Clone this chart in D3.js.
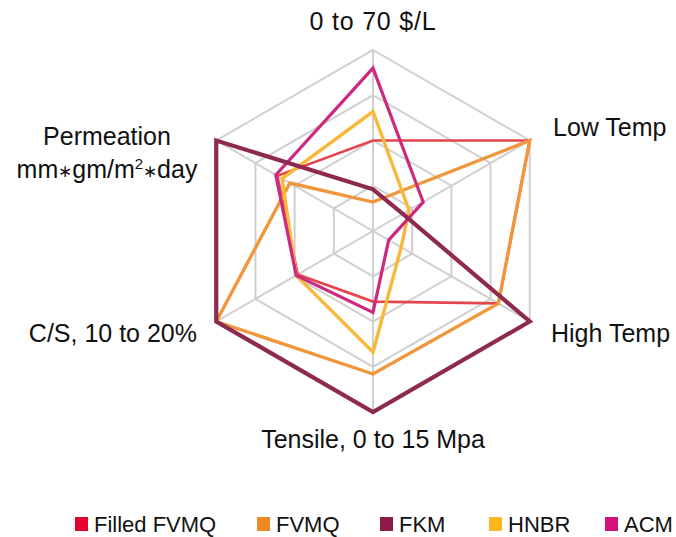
<!DOCTYPE html>
<html>
<head>
<meta charset="utf-8">
<script src="https://cdn.jsdelivr.net/npm/d3@7"></script>
<style>
  html, body { margin: 0; padding: 0; background: #fff; }
  svg { display: block; }
  text { font-family: "Liberation Sans", Arial, Helvetica, sans-serif; fill: #111; }
</style>
</head>
<body>
<svg id="chart" width="676" height="537"></svg>
<script>
// Axis names, clockwise from the top
const axes = ["0 to 70 $/L", "Low Temp", "High Temp", "Tensile, 0 to 15 Mpa", "C/S, 10 to 20%", "Permeation"];

// Normalised score (0–1) of each material on each axis
const filledFVMQ = [0.50, 1.00, 0.80, 0.39, 0.48, 0.61];
const fvmq       = [0.16, 1.00, 0.80, 0.79, 1.00, 0.53];
const fkm        = [0.23, 0.19, 1.00, 1.00, 1.00, 1.00];
const hnbr       = [0.66, 0.23, 0.18, 0.67, 0.49, 0.58];
const acm        = [0.90, 0.32, 0.10, 0.45, 0.49, 0.62];

const seriesNames  = ["Filled FVMQ", "FVMQ", "FKM", "HNBR", "ACM"];
const seriesValues = [filledFVMQ, fvmq, fkm, hnbr, acm];
const seriesColors = ["#e4032e", "#ee8a26", "#8e1b47", "#fdb61e", "#d0127a"];
const lineColors   = ["#e4454c", "#f0963c", "#8e2a4f", "#f8b83a", "#cc2a80"];
const lineWidths   = [2.6, 3.4, 4.2, 3.4, 3.2];
// drawing order (bottom to top)
const drawOrder    = [0, 1, 3, 4, 2];

const ringLevels = [0.25, 0.5, 0.75, 1];

const svg = d3.select("#chart");
const cx = 373, cy = 231, R = 181;

const angle = d3.scalePoint().domain(d3.range(axes.length)).range([0, 2 * Math.PI * (axes.length - 1) / axes.length]);
const r = d3.scaleLinear().domain([0, 1]).range([0, R]);

const g = svg.append("g").attr("transform", `translate(${cx},${cy})`);

// grid rings
const ringLine = d3.lineRadial()
  .angle((d, i) => angle(i))
  .radius(d => r(d))
  .curve(d3.curveLinearClosed);

g.append("g").selectAll("path")
  .data(ringLevels)
  .join("path")
  .attr("d", lv => ringLine(axes.map(() => lv)))
  .attr("fill", "none")
  .attr("stroke", "#cfcfcf")
  .attr("stroke-width", 2);

// spokes
g.append("g").selectAll("line")
  .data(axes)
  .join("line")
  .attr("x1", 0).attr("y1", 0)
  .attr("x2", (d, i) => r(1) * Math.sin(angle(i)))
  .attr("y2", (d, i) => -r(1) * Math.cos(angle(i)))
  .attr("stroke", "#cfcfcf")
  .attr("stroke-width", 2);

// material outlines
g.append("g").selectAll("path")
  .data(drawOrder)
  .join("path")
  .attr("d", k => ringLine(seriesValues[k]))
  .attr("fill", "none")
  .attr("stroke", k => lineColors[k])
  .attr("stroke-width", k => lineWidths[k])
  .attr("stroke-linejoin", "miter");

// axis labels
const labelSize = 25;
const lab = svg.append("g").attr("font-size", labelSize);
lab.append("text").attr("x", 373).attr("y", 30).attr("text-anchor", "middle").attr("letter-spacing", 0.8).text(axes[0]);
lab.append("text").attr("x", 553).attr("y", 136).attr("text-anchor", "start").text(axes[1]);
lab.append("text").attr("x", 551).attr("y", 342).attr("text-anchor", "start").text(axes[2]);
lab.append("text").attr("x", 373).attr("y", 448).attr("text-anchor", "middle").text(axes[3]);
lab.append("text").attr("x", 197).attr("y", 342).attr("text-anchor", "end").text(axes[4]);
lab.append("text").attr("x", 107).attr("y", 145).attr("text-anchor", "middle").text(axes[5]);
const unit = lab.append("text").attr("x", 107).attr("y", 178).attr("text-anchor", "middle");
unit.append("tspan").text("mm");
unit.append("tspan").attr("font-size", 17).attr("dy", -1).text("\u2217");
unit.append("tspan").attr("dy", 1).text("gm/m");
unit.append("tspan").attr("font-size", 15).attr("dy", -9).text("2");
unit.append("tspan").attr("font-size", 17).attr("dy", 8).text("\u2217");
unit.append("tspan").attr("dy", 1).text("day");

// legend
const legendX = [75, 257, 380, 489, 605];
const leg = svg.append("g").attr("font-size", 22);
const item = leg.selectAll("g")
  .data(seriesNames)
  .join("g")
  .attr("transform", (d, i) => `translate(${legendX[i]},0)`);
item.append("rect")
  .attr("x", 0).attr("y", 517).attr("width", 13).attr("height", 14)
  .attr("fill", (d, i) => seriesColors[i]);
item.append("text")
  .attr("x", 19).attr("y", 532)
  .text(d => d);
</script>
</body>
</html>
